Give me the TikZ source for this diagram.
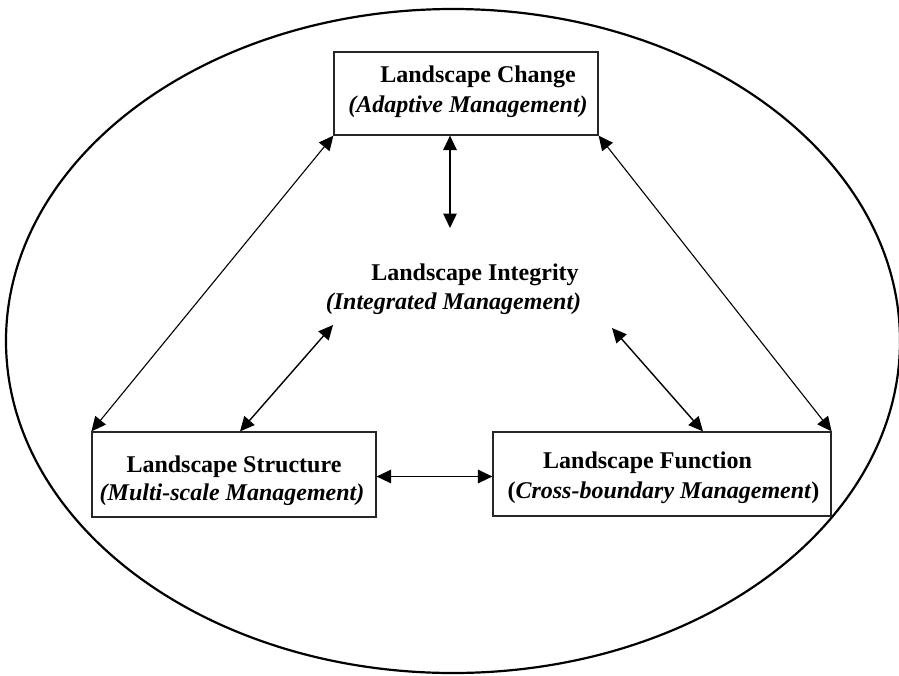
\documentclass[tikz,border=0pt]{standalone}
\usepackage{fontspec}
\setmainfont{Liberation Serif}
\usetikzlibrary{arrows.meta}

\begin{document}
\begin{tikzpicture}[x=1pt, y=-1pt,
    box/.style={draw=black!85, line width=1.2pt, inner sep=0pt, fill=none},
    headline/.style={anchor=base, inner sep=0pt, font=\fontsize{24}{30}\selectfont\bfseries},
    subline/.style={anchor=base, inner sep=0pt, font=\fontsize{24}{30}\selectfont\bfseries\itshape},
    link/.style={line width=1.4pt, {Triangle[length=14.5pt,width=13.5pt]}-{Triangle[length=14.5pt,width=13.5pt]}},
    longlink/.style={link, line width=1.1pt},
    frame/.style={line width=2.2pt}]
  \useasboundingbox (0,0) rectangle (899,675);

  % enclosing ellipse
  \draw[frame] (453,341) ellipse [x radius=447pt, y radius=332pt];

  % the three framed concepts
  \node[box, minimum width=264pt, minimum height=83pt] (change) at (466,93.5) {};
  \node[box, minimum width=284pt, minimum height=85pt] (structure) at (234,474.5) {};
  \node[box, minimum width=338pt, minimum height=84pt] (function) at (662,474) {};

  % labels
  \node[headline] (changeA) at (478,82) {Landscape Change};
  \node[subline]  (changeB) at (468,112) {(Adaptive Management)};

  \node[headline] (integA) at (475,280) {Landscape Integrity};
  \node[subline]  (integB) at (453.5,309) {(Integrated Management)};

  \node[headline] (structA) at (234,472) {Landscape Structure};
  \node[subline]  (structB) at (232,500) {(Multi-scale Management)};

  \node[headline] (funcA) at (647.5,468) {Landscape Function};
  \node[headline] (funcB) at (663.5,498) {(\textit{Cross-boundary Management})};

  % free ends of the links into the centre
  \coordinate (intT) at (450,228);
  \coordinate (intL) at (333,325);
  \coordinate (intR) at (612,328);

  % connectors
  \draw[longlink] (change.south west) -- (structure.north west);
  \draw[longlink] (change.south east) -- (function.north east);
  \draw[link] (intT |- change.south) -- (intT);
  \draw[link] ([xshift=6pt]structure.north) -- (intL);
  \draw[link] ([xshift=41pt]function.north) -- (intR);
  \draw[link] ([yshift=-2pt]structure.east) -- ([yshift=-2pt]structure.east -| function.west);
\end{tikzpicture}
\end{document}
